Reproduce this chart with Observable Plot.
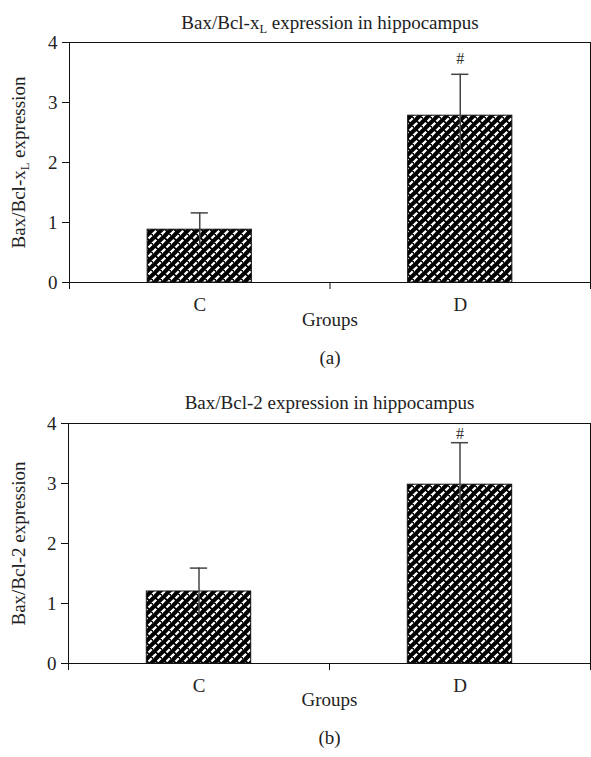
<!DOCTYPE html>
<html>
<head>
<meta charset="utf-8">
<script src="https://cdn.jsdelivr.net/npm/d3@7"></script>
<script src="https://cdn.jsdelivr.net/npm/@observablehq/plot@0.6"></script>
<style>
  html, body { margin: 0; padding: 0; background: #fff; }
  svg { display: block; }
</style>
</head>
<body>
<div id="chart"></div>
<script>
// ---- data ----
const groups = ["C", "D"];
const yTicks = [0, 1, 2, 3, 4];

const bclxlMean = [0.88, 2.78];
const bclxlErr  = [0.28, 0.69];
const bclxlSig  = ["", "#"];

const bcl2Mean = [1.20, 2.98];
const bcl2Err  = [0.39, 0.70];
const bcl2Sig  = ["", "#"];

const panels = [
  {id: "hatchA", title: "Bax/Bcl-x_L expression in hippocampus", ylabel: "Bax/Bcl-x_L expression",
   caption: "(a)", means: bclxlMean, errs: bclxlErr, sig: bclxlSig, sigDy: -15,
   height: 378, marginTop: 42, marginBottom: 96, marginLeft: 69, titleDy: -27, groupsDy: 43, capDy: 81},
  {id: "hatchB", title: "Bax/Bcl-2 expression in hippocampus", ylabel: "Bax/Bcl-2 expression",
   caption: "(b)", means: bcl2Mean, errs: bcl2Err, sig: bcl2Sig, sigDy: -9,
   height: 379, marginTop: 45, marginBottom: 94, marginLeft: 68, titleDy: -28, groupsDy: 42, capDy: 80}
];

const FONT = "'Liberation Serif', 'DejaVu Serif', serif";
const FS = 19;

function subscript(svg) {
  svg.querySelectorAll("text").forEach(t => {
    const s = t.textContent;
    if (!s.includes("_L")) return;
    const [a, b] = s.split("_L");
    t.textContent = "";
    const ns = "http://www.w3.org/2000/svg";
    const t1 = document.createElementNS(ns, "tspan"); t1.textContent = a;
    const t2 = document.createElementNS(ns, "tspan"); t2.textContent = "L";
    t2.setAttribute("font-size", "12.5"); t2.setAttribute("dy", "4");
    const t3 = document.createElementNS(ns, "tspan"); t3.textContent = b;
    t3.setAttribute("dy", "-4");
    t.append(t1, t2, t3);
  });
}

function addPattern(svg, id) {
  const defs = d3.select(svg).insert("defs", ":first-child");
  const p = defs.append("pattern")
    .attr("id", id).attr("patternUnits", "userSpaceOnUse")
    .attr("width", 9).attr("height", 9);
  p.append("rect").attr("width", 9).attr("height", 9).attr("fill", "#000");
  p.append("path")
    .attr("d", "M0,9L9,0M-1,1L1,-1M8,10L10,8")
    .attr("stroke", "#fff").attr("stroke-width", 2.3)
    .attr("stroke-dasharray", "4.6,1.76");
}

const root = document.getElementById("chart");

for (const P of panels) {
  const data = groups.map((g, i) => ({i, group: g, mean: P.means[i], err: P.errs[i], sig: P.sig[i]}));
  const svg = Plot.plot({
    width: 591,
    height: P.height,
    marginTop: P.marginTop,
    marginBottom: P.marginBottom,
    marginLeft: P.marginLeft,
    marginRight: 1,
    style: {fontFamily: FONT, fontSize: FS + "px", color: "#222", background: "#fff"},
    x: {type: "linear", domain: [0, groups.length], axis: null},
    y: {domain: [0, 4], axis: null},
    marks: [
      Plot.rectY(data, {x1: d => d.i + 0.3, x2: d => d.i + 0.7, y1: 0, y2: "mean",
        fill: `url(#${P.id})`, stroke: "#111", strokeWidth: 1}),
      Plot.ruleX(data, {x: d => d.i + 0.5, y1: d => d.mean - d.err, y2: d => d.mean + d.err,
        stroke: "#444", strokeWidth: 1.5}),
      Plot.ruleY(data, {y: d => d.mean + d.err, x1: d => d.i + 0.5 - 0.033, x2: d => d.i + 0.5 + 0.033,
        stroke: "#444", strokeWidth: 1.5}),
      Plot.text(data, {x: d => d.i + 0.5, y: d => d.mean + d.err, text: "sig", dy: P.sigDy,
        fontSize: 16, fill: "#333"}),
      Plot.frame({stroke: "#111", strokeWidth: 1}),
      Plot.axisY({ticks: yTicks, tickSize: 7, tickPadding: 5, tickFormat: d3.format("d"),
        label: null, fontSize: FS, stroke: "#111"}),
      Plot.axisX({ticks: d3.range(groups.length + 1), tickSize: 7, tickFormat: () => "",
        label: null, stroke: "#111"}),
      Plot.axisX({ticks: groups.map((g, i) => i + 0.5), tickSize: 0, tickPadding: 15,
        tickFormat: v => groups[Math.floor(v)], label: null, fontSize: FS}),
      Plot.text([P.title], {frameAnchor: "top", dy: P.titleDy, fontSize: FS}),
      Plot.text([P.ylabel], {frameAnchor: "left", textAnchor: "middle", rotate: -90,
        dx: 18 - P.marginLeft, fontSize: FS}),
      Plot.text(["Groups"], {frameAnchor: "bottom", dy: P.groupsDy, fontSize: FS}),
      Plot.text([P.caption], {frameAnchor: "bottom", dy: P.capDy, fontSize: FS})
    ]
  });
  addPattern(svg, P.id);
  subscript(svg);
  root.appendChild(svg);
}
</script>
</body>
</html>
